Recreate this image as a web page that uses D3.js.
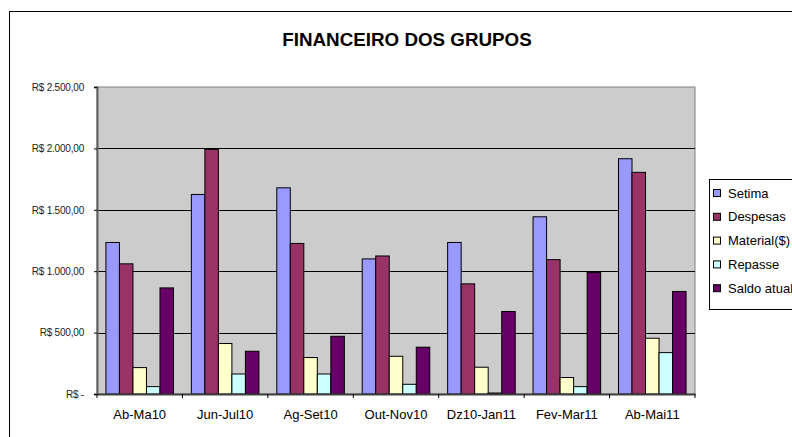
<!DOCTYPE html>
<html>
<head>
<meta charset="utf-8">
<script src="https://cdn.jsdelivr.net/npm/d3@7"></script>
<style>
  body { margin: 0; background: #fff; }
  text { font-family: 'Liberation Sans', Arial, sans-serif; }
</style>
</head>
<body>
<div id="app"></div>
<script>
'use strict'

const periods = ['Ab-Ma10', 'Jun-Jul10', 'Ag-Set10', 'Out-Nov10', 'Dz10-Jan11', 'Fev-Mar11', 'Ab-Mai11']
const seriesNames = ['Setima', 'Despesas', 'Material($)', 'Repasse', 'Saldo atual']
const setima = [1234, 1625, 1679, 1100, 1234, 1443, 1916]
const despesas = [1060, 1992, 1226, 1124, 897, 1094, 1805]
const material = [215, 411, 297, 307, 218, 134, 454]
const repasse = [60, 163, 163, 79, 8, 60, 337]
const saldo = [864, 348, 470, 381, 672, 990, 835]
const yTicks = [0, 500, 1000, 1500, 2000, 2500]

const colors = ['#9999ff', '#993366', '#ffffcc', '#ccffff', '#660066']
const values = [setima, despesas, material, repasse, saldo]

const width = 792
const height = 437
const plot = { left: 97, right: 695, top: 87, bottom: 394 }

const svg = d3.select('#app').append('svg')
  .attr('width', width)
  .attr('height', height)

// outer chart border (runs off the right/bottom edge)
svg.append('rect')
  .attr('x', 9.5).attr('y', 11.5)
  .attr('width', 800).attr('height', 440)
  .attr('fill', '#fff')
  .attr('stroke', '#000')
  .attr('stroke-width', 1)

svg.append('text')
  .attr('x', 407).attr('y', 46)
  .attr('text-anchor', 'middle')
  .style('font-size', '18.8px')
  .style('font-weight', 'bold')
  .text('FINANCEIRO DOS GRUPOS')

const x0 = d3.scaleBand()
  .domain(periods)
  .range([plot.left, plot.right])

const x1 = d3.scaleBand()
  .domain(seriesNames)
  .range([0, x0.bandwidth()])
  .paddingOuter(0.66)

const y = d3.scaleLinear()
  .domain([0, 2500])
  .range([plot.bottom, plot.top])

// plot background
svg.append('rect')
  .attr('x', plot.left).attr('y', plot.top)
  .attr('width', plot.right - plot.left)
  .attr('height', plot.bottom - plot.top)
  .attr('fill', '#cccccc')
  .attr('stroke', '#808080')
  .attr('stroke-width', 1)

// gridlines
svg.append('g')
  .selectAll('line')
  .data(yTicks.filter(d => d > 0 && d < 2500))
  .join('line')
  .attr('x1', plot.left).attr('x2', plot.right)
  .attr('y1', d => Math.round(y(d)) + 0.5)
  .attr('y2', d => Math.round(y(d)) + 0.5)
  .attr('stroke', '#000')

// bars
const groups = svg.append('g')
  .selectAll('g')
  .data(seriesNames)
  .join('g')
  .attr('fill', (d, i) => colors[i])

groups.selectAll('rect')
  .data((s, si) => periods.map((p, pi) => ({ period: p, series: s, value: values[si][pi] })))
  .join('rect')
  .attr('x', d => x0(d.period) + x1(d.series))
  .attr('y', d => y(d.value))
  .attr('width', x1.bandwidth())
  .attr('height', d => plot.bottom - y(d.value))
  .attr('stroke', '#000')
  .attr('stroke-width', 1)

// pt-BR currency label
const brl = d => d === 0 ? 'R$ -'
  : 'R$ ' + d3.format(',.2f')(d).replace(/,/g, 'x').replace('.', ',').replace(/x/g, '.')

// y axis
const yAxis = svg.append('g')
  .attr('transform', `translate(${plot.left},0)`)
  .call(d3.axisLeft(y)
    .tickValues(yTicks)
    .tickSize(3)
    .tickPadding(10)
    .tickFormat(brl))
yAxis.select('.domain').attr('stroke', '#606060').attr('stroke-width', 2)
yAxis.selectAll('.tick line').attr('stroke', '#000')
yAxis.selectAll('text')
  .style('font-size', '10px')
  .style('letter-spacing', '-0.2px')
  .attr('fill', '#222')

// x axis
const xAxis = svg.append('g')
  .attr('transform', `translate(0,${plot.bottom})`)
  .call(d3.axisBottom(x0).tickSize(0).tickPadding(16))
xAxis.select('.domain').attr('stroke', '#404040').attr('stroke-width', 2)
xAxis.selectAll('text')
  .style('font-size', '13px')
  .style('font-weight', 'normal')
  .attr('fill', '#000')

// category boundary ticks
xAxis.append('g')
  .selectAll('line')
  .data(periods.concat(['end']))
  .join('line')
  .attr('x1', (d, i) => i < periods.length ? x0(d) : plot.right)
  .attr('x2', (d, i) => i < periods.length ? x0(d) : plot.right)
  .attr('y1', 0).attr('y2', 4)
  .attr('stroke', '#000')

// legend
svg.append('rect')
  .attr('x', 709.5).attr('y', 179.5)
  .attr('width', 100).attr('height', 130)
  .attr('fill', '#fff')
  .attr('stroke', '#000')

const item = svg.append('g')
  .selectAll('g')
  .data(seriesNames)
  .join('g')
  .attr('transform', (d, i) => `translate(713,${193 + i * 23.8})`)

item.append('rect')
  .attr('x', 0.5).attr('y', -3.5)
  .attr('width', 7).attr('height', 7)
  .attr('fill', (d, i) => colors[i])
  .attr('stroke', '#000')

item.append('text')
  .attr('x', 15).attr('y', 4.5)
  .style('font-size', '13px')
  .text(d => d)
</script>
</body>
</html>
